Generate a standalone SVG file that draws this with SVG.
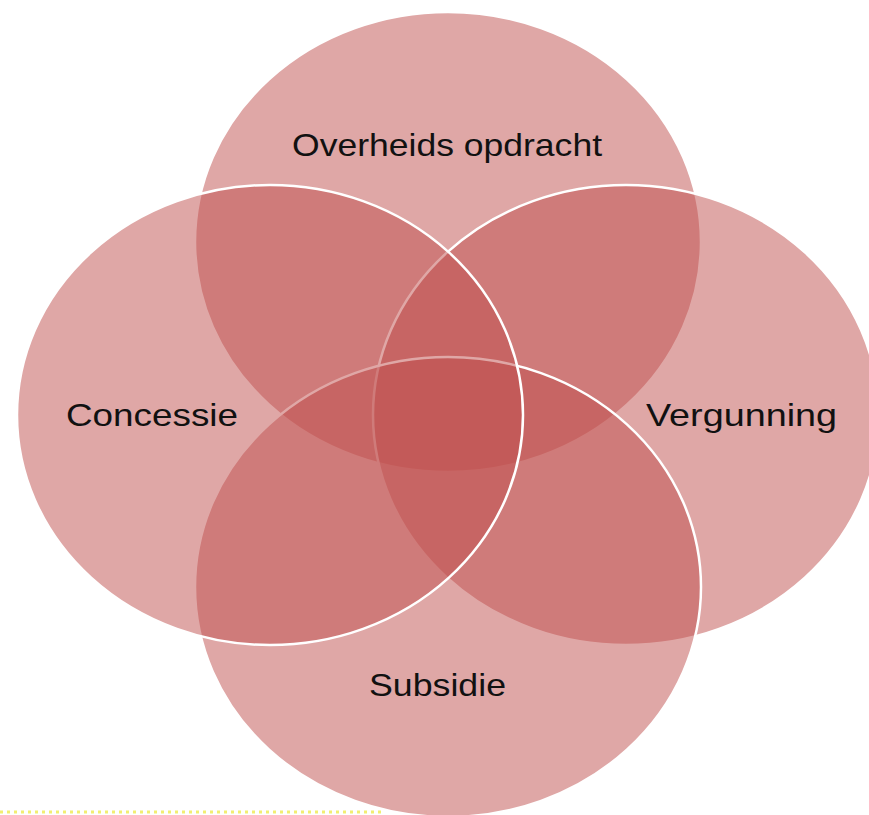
<svg xmlns="http://www.w3.org/2000/svg" width="869" height="815" viewBox="0 0 869 815">
  <style>
    .set { fill: #C0504D; fill-opacity: 0.5; stroke: #FFFFFF; stroke-width: 2.5; }
    .lbl { font-family: "Liberation Sans", Arial, sans-serif; font-size: 32px; fill: #111111; }
    .edge { stroke: #F2EE70; stroke-width: 3; stroke-dasharray: 3 4; fill: none; }
  </style>
  <rect x="0" y="0" width="869" height="815" fill="#FFFFFF"/>
  <g id="node-overheidsopdracht">
    <ellipse class="set" cx="448" cy="242" rx="253" ry="230"/>
    <text class="lbl" x="292" y="156" textLength="310" lengthAdjust="spacingAndGlyphs">Overheids opdracht</text>
  </g>
  <g id="node-vergunning">
    <ellipse class="set" cx="626" cy="415" rx="253" ry="230"/>
    <text class="lbl" x="646" y="426" textLength="191" lengthAdjust="spacingAndGlyphs">Vergunning</text>
  </g>
  <g id="node-subsidie">
    <ellipse class="set" cx="448" cy="587" rx="253" ry="230"/>
    <text class="lbl" x="369" y="696" textLength="137" lengthAdjust="spacingAndGlyphs">Subsidie</text>
  </g>
  <g id="node-concessie">
    <ellipse class="set" cx="270" cy="415" rx="253" ry="230"/>
    <text class="lbl" x="66" y="426" textLength="172" lengthAdjust="spacingAndGlyphs">Concessie</text>
  </g>
  <line class="edge" x1="0" y1="812" x2="385" y2="812"/>
</svg>
